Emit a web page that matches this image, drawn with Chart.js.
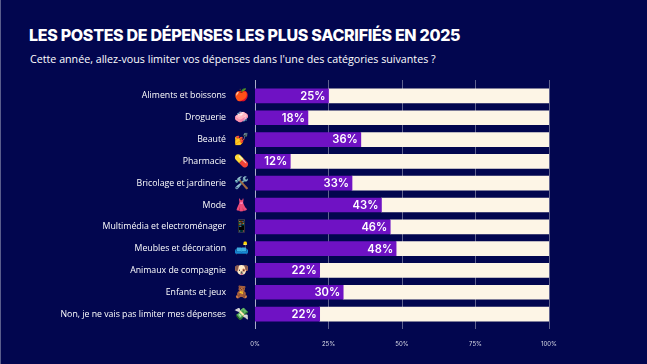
<!DOCTYPE html>
<html lang="fr"><head><meta charset="utf-8">
<script src="https://cdn.jsdelivr.net/npm/chart.js@4"></script>
<style>
html,body{margin:0;padding:0;background:#02064f;width:647px;height:364px;overflow:hidden}
#wrap{position:relative;width:647px;height:364px}
#edge{position:absolute;left:0;top:0;width:1px;height:364px;background:#5a5d8c}
canvas{position:absolute;left:0;top:0}
#title{position:absolute;left:29px;top:25px;font:800 16px Inter,sans-serif;color:#fff;white-space:nowrap;letter-spacing:-.3px}
#sub{position:absolute;left:30px;top:52px;font:500 10.7px "Open Sans",sans-serif;color:#fff;white-space:nowrap}
</style></head><body>
<div id="wrap">
<div id="edge"></div>
<div id="title">LES POSTES DE DÉPENSES LES PLUS SACRIFIÉS EN 2025</div>
<div id="sub">Cette année, allez-vous limiter vos dépenses dans l'une des catégories suivantes ?</div>
<canvas id="c" width="647" height="364"></canvas>
</div>
<script>
const categories=["Aliments et boissons","Droguerie","Beauté","Pharmacie","Bricolage et jardinerie","Mode","Multimédia et electroménager","Meubles et décoration","Animaux de compagnie","Enfants et jeux","Non, je ne vais pas limiter mes dépenses"];
const emojis=["🍎","🧼","💅","💊","🛠️","👗","📱","🛋️","🐶","🧸","💸"];
const percents=[25,18,36,12,33,43,46,48,22,30,22];
const remainder=[75,82,64,88,67,57,54,52,78,70,78];
const xTicks=[0,25,50,75,100];

const extras={id:'extras',
 beforeDatasetsDraw(ch){const {ctx,scales:{x},chartArea:a}=ch;ctx.save();
  xTicks.forEach(t=>{const p=Math.floor(x.getPixelForValue(t))+.5;ctx.strokeStyle=t===0?'#a9acc8':'#5f628f';ctx.lineWidth=1;ctx.beginPath();ctx.moveTo(p,a.top-5);ctx.lineTo(p,a.bottom+4);ctx.stroke();});ctx.restore();},
 afterDatasetsDraw(ch){const {ctx,scales:{x,y}}=ch;ctx.save();
  ctx.textBaseline='middle';
  percents.forEach((v,i)=>{const py=y.getPixelForValue(i);
   ctx.font='600 11.2px Inter,sans-serif';ctx.fillStyle='#fff';ctx.textAlign='right';ctx.fillText(v+'%',x.getPixelForValue(v)-3,py+.5);
   ctx.font='12px "Noto Color Emoji","DejaVu Sans",sans-serif';ctx.textAlign='center';
   if(emojis[i]==='👗')ctx.filter='hue-rotate(120deg) saturate(.8) brightness(1.25)';
   ctx.fillText(emojis[i],242,py);ctx.filter='none';
  });ctx.restore();}
};
new Chart(document.getElementById('c'),{type:'bar',
 data:{labels:categories,datasets:[
  {data:percents,backgroundColor:'#6f12c4',barThickness:14,stack:'s'},
  {data:remainder,backgroundColor:'#fdf5e6',barThickness:14,stack:'s'}]},
 plugins:[extras],
 options:{indexAxis:'y',responsive:false,animation:false,
  layout:{padding:{top:85,right:98,left:0,bottom:0}},
  plugins:{legend:{display:false},tooltip:{enabled:false},title:{display:false}},
  scales:{
   x:{stacked:true,min:0,max:100,afterFit(s){s.height=39;},
      afterBuildTicks(s){s.ticks=xTicks.map(v=>({value:v}));},
      border:{display:false},grid:{display:false},
      ticks:{color:'#d9dae6',font:{size:6,family:'Inter,sans-serif'},padding:8,maxRotation:0,callback:v=>v+'%'}},
   y:{stacked:true,afterFit(s){s.width=255;},border:{display:false},grid:{display:false},
      ticks:{color:'#fff',font:{size:8.75,family:'"Open Sans",sans-serif',weight:'500'},padding:21,autoSkip:false}}
  }}});
</script></body></html>
